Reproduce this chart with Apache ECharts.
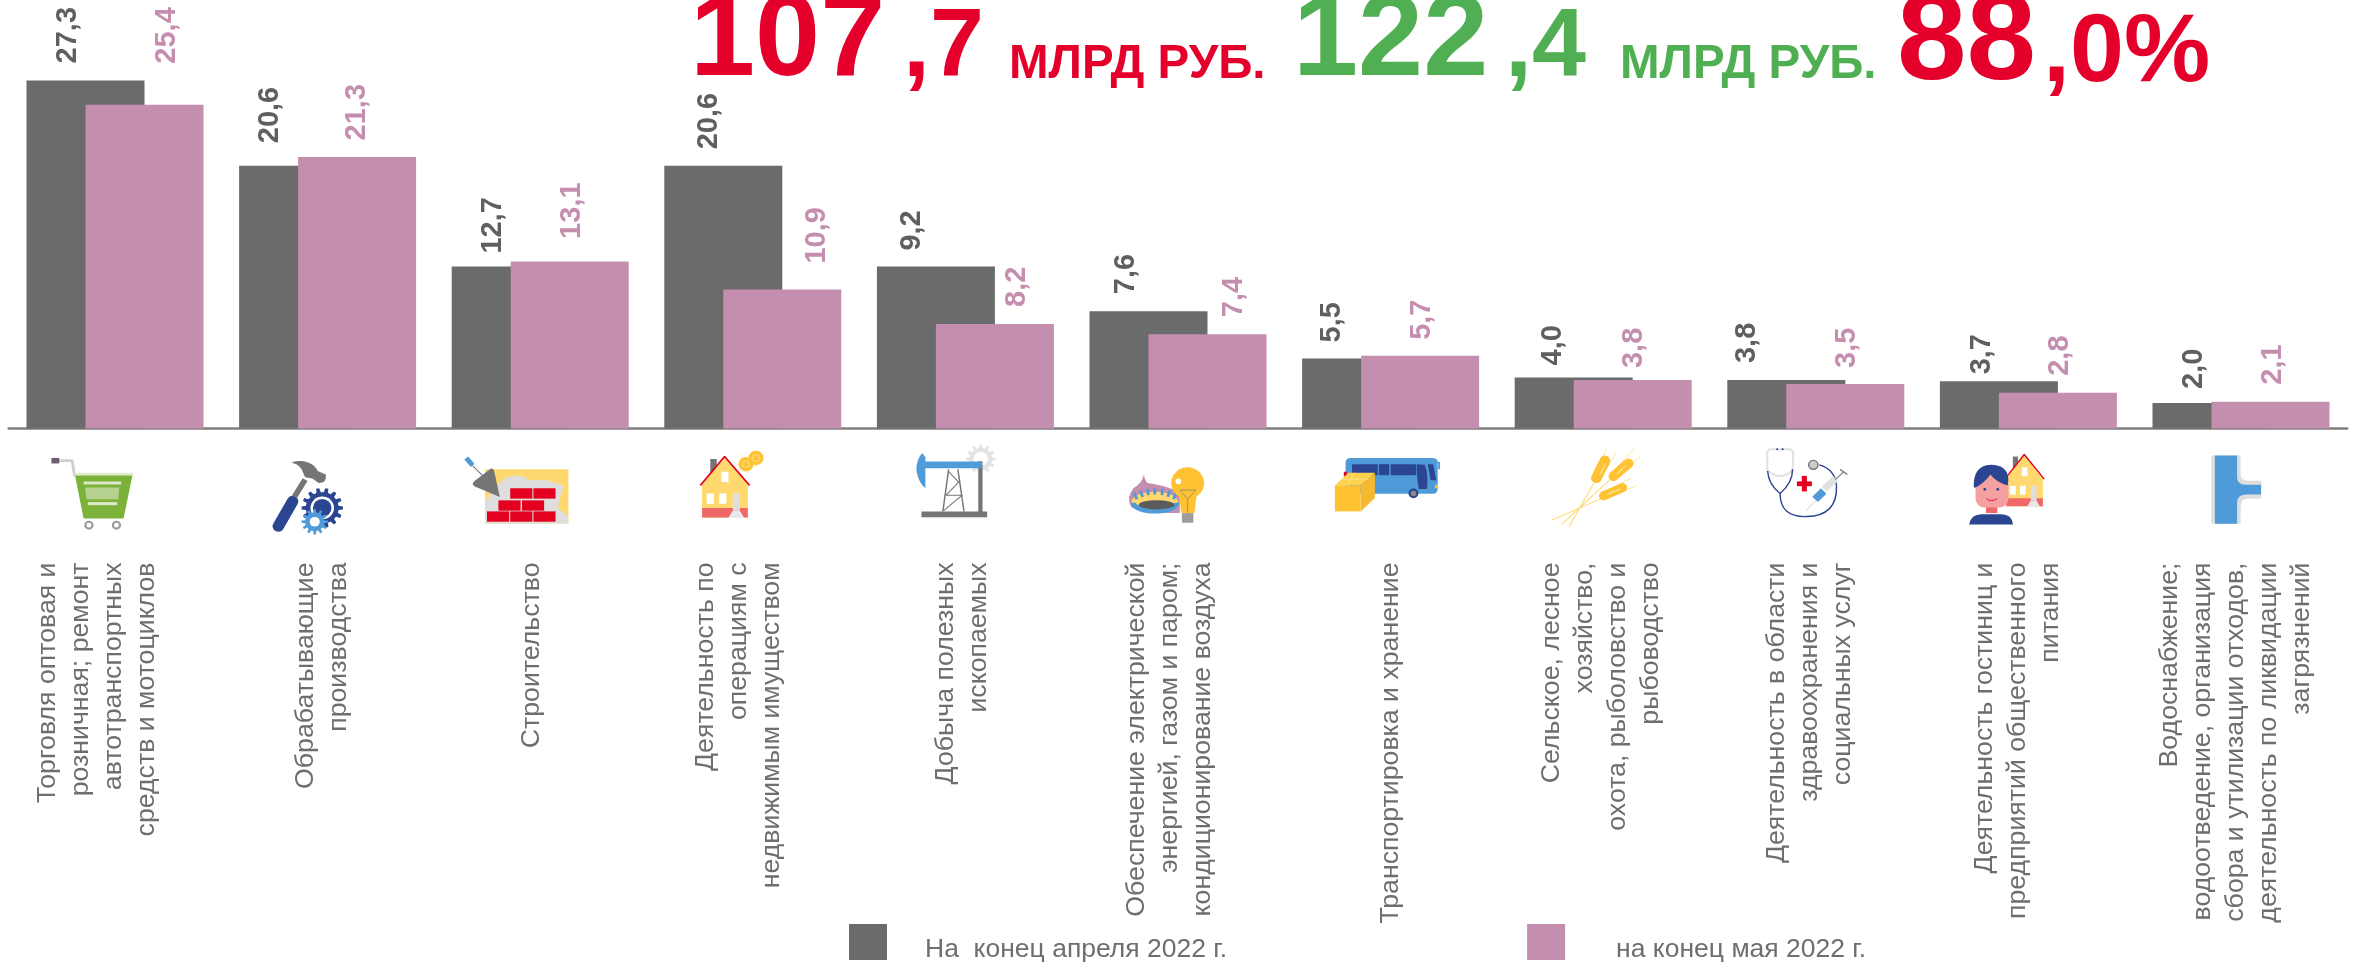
<!DOCTYPE html>
<html><head><meta charset="utf-8">
<style>html,body{margin:0;padding:0;background:#fff}#c{width:2356px;height:962px}</style>
<script src="https://cdn.jsdelivr.net/npm/echarts@6/dist/echarts.min.js"></script>
</head><body><div id="c"></div>
<script>
const categories = [
 'Торговля оптовая и\nрозничная; ремонт\nавтотранспортных\nсредств и мотоциклов',
 'Обрабатывающие\nпроизводства',
 'Строительство',
 'Деятельность по\nоперациям с\nнедвижимым имуществом',
 'Добыча полезных\nископаемых',
 'Обеспечение электрической\nэнергией, газом и паром;\nкондиционирование воздуха',
 'Транспортировка и хранение',
 'Сельское, лесное\nхозяйство,\nохота, рыболовство и\nрыбоводство',
 'Деятельность в области\nздравоохранения и\nсоциальных услуг',
 'Деятельность гостиниц и\nпредприятий общественного\nпитания',
 'Водоснабжение;\nводоотведение, организация\nсбора и утилизации отходов,\nдеятельность по ликвидации\nзагрязнений'
];
const seriesAprilName = 'На  конец апреля 2022 г.';
const seriesMayName = 'на конец мая 2022 г.';
// bar heights as drawn in the picture (two grey bars do not match their printed labels)
const aprilBars = [27.3, 20.6, 12.7, 20.6, 12.7, 9.2, 5.5, 4.0, 3.8, 3.7, 2.0];
const aprilLabels = ['27,3','20,6','12,7','20,6','9,2','7,6','5,5','4,0','3,8','3,7','2,0'];
const mayBars = [25.4, 21.3, 13.1, 10.9, 8.2, 7.4, 5.7, 3.8, 3.5, 2.8, 2.1];
const mayLabels = ['25,4','21,3','13,1','10,9','8,2','7,4','5,7','3,8','3,5','2,8','2,1'];

// layout only
const aprilLabelDx = [-18,-28,-18,-14,-24,-23,-29,-21,-39,-17,-18];
const aprilLabelGap = [17,22.6,13,16.5,16,17,16,12,17,7,14];
const mayLabelDx = [22,0,2,35,22,26,2,1,2,2,2];
const mayLabelGap = [41,16.5,22.6,26,17,17,16,12,16,17,17];
const catLabelShift = [-18,-5,-9,-14,-3,-8,0,-2,-6,-11,-5];
const CAT_LINE = 33;

const FONT = '"Liberation Sans", Arial, sans-serif';
const GREY = '#6B6B6B', PINK = '#C48EAE', RED = '#E4002B', GREEN = '#50AF52';
const BLUE = '#2B4590', SKY = '#4F9BD9', GOLD = '#FFC233', SAND = '#FFD96F', STEEL = '#757575', LIGHT = '#DEDEDE';

// icon primitives, in a local drawing space
const R = (x,y,w,h,fill,r) => ({type:'rect',shape:{x,y,width:w,height:h,r:r||0},style:{fill}});
const C = (cx,cy,r,fill,stroke,lw) => ({type:'circle',shape:{cx,cy,r},style:{fill:fill||'none',stroke:stroke||null,lineWidth:lw||0}});
const P = (points,fill) => ({type:'polygon',shape:{points},style:{fill}});
const L = (points,stroke,lw,cap) => ({type:'polyline',shape:{points},style:{fill:'none',stroke,lineWidth:lw,lineCap:cap||'butt',lineJoin:'round'}});
const D = (d,fill,stroke,lw) => ({type:'path',shape:{pathData:d},style:{fill:fill||'none',stroke:stroke||null,lineWidth:lw||0}});
function gear(cx,cy,ro,ri,n,fill){
  const pts=[];const st=Math.PI*2/n;
  for(let i=0;i<n;i++){const a=i*st;
    [[-.3,ri],[-.17,ro],[.17,ro],[.3,ri]].forEach(q=>{const t=a+q[0]*st;pts.push([cx+q[1]*Math.cos(t),cy+q[1]*Math.sin(t)]);});}
  return P(pts,fill);
}
function house(){
  return [
    R(85,55,18,45,STEEL),
    P([[62,130],[125,50],[190,130],[190,225],[62,225]],SAND),
    R(62,197,128,28,'#F06767'),
    R(148,155,20,50,LIGHT),
    P([[135,226],[148,205],[168,205],[180,226]],'#E8E8E8'),
    R(116,92,20,30,'#fff'),R(75,155,20,30,'#fff'),R(110,155,20,30,'#fff'),
    L([[57,132],[125,48],[195,132]],'#E4001F',5)
  ];
}
const icons = [
  {cx:238, kids:[
    L([[75,60],[118,60],[125,105]],'#CFCFCF',8),
    R(60,52,22,16,'#6F5C70'),
    P([[125,97],[288,97],[262,228],[150,228]],'#7DB23A'),
    R(125,95,163,8,'#E0ECD0'),
    R(150,120,105,9,'#DCE8C8'),
    P([[154,138],[250,138],[247,172],[158,172]],'#B5D08F'),
    R(162,180,82,9,'#DCE8C8'),
    C(165,247,10,'#fff','#9A9A9A',6),C(242,247,10,'#fff','#9A9A9A',6)
  ]},
  {cx:833, kids:[
    L([[695,250],[735,178]],BLUE,32,'round'),
    L([[740,165],[770,115]],STEEL,16),
    D('M732 65C770 52 800 72 805 90L828 100Q832 125 808 125L790 112L770 108L760 84C752 72 742 68 732 65Z',STEEL),
    gear(818,197,58,46,14,BLUE),
    C(818,197,33,'#fff'),C(818,197,26,BLUE),
    gear(797,237,37,27,12,'#4F9BD9'),C(797,237,14,'#fff'),
  ]},
  {cx:1429, kids:[
    R(1275,85,233,157,SAND),
    D('M1275 178Q1300 140 1330 110Q1370 92 1400 118Q1450 108 1495 135Q1478 180 1480 200Q1508 212 1508 242L1275 242Z',LIGHT),
    R(1345,140,62,30,'#E4001F'),R(1410,140,62,30,'#E4001F'),
    R(1312,175,62,30,'#E4001F'),R(1378,175,62,30,'#E4001F'),
    R(1280,207,62,30,'#E4001F'),R(1345,207,62,30,'#E4001F'),R(1410,207,62,30,'#E4001F'),
    L([[1240,75],[1268,103]],STEEL,3),
    L([[1222,52],[1240,74]],SKY,14),
    D('M1292 82Q1298 82 1300 90L1316 165L1246 135Q1234 128 1246 118Z',STEEL)
  ]},
  {cx:204, kids:[
    ...house(),
    C(213,52,21,GOLD,'#FFE08A',1),C(185,70,21,GOLD,'#FFE08A',1),
    C(213,52,9,null,'#FFE08A',3),C(185,70,9,null,'#FFE08A',3)
  ]},
  {cx:799, kids:[
    gear(842,55,42,32,12,'#E4E4E4'),C(842,55,20,'#fff'),
    R(835,62,12,150,STEEL),
    R(685,62,160,20,SKY),
    D('M678 38Q660 60 662 90Q668 125 687 140L687 50Z',SKY),
    L([[752,85],[736,207]],STEEL,4),L([[778,85],[795,207]],STEEL,4),
    L([[752,92],[780,122],[745,160],[790,160],[738,205]],STEEL,3),
    R(676,207,184,17,STEEL)
  ]},
  {cx:1395, kids:[
    D('M1300 98Q1296 125 1270 140Q1248 170 1265 195Q1285 212 1400 212L1400 150Q1350 130 1310 125Q1300 115 1300 98Z',PINK),
    D('M1265 180A65 30 0 0 1 1395 180A65 30 0 0 1 1265 180Z',SAND),
    D('M1270 182A60 24 0 0 0 1392 182',null,SKY,14),
    D('M1280 172L1272 152M1296 165L1290 148M1312 160L1310 142M1330 158L1330 140M1350 160L1352 142M1366 165L1372 148M1382 172L1390 154',null,SKY,8),
    D('M1285 188A45 12 0 0 1 1385 188A45 12 0 0 1 1285 188Z','#5B5B5B'),
    C(1422,125,46,GOLD),
    P([[1398,160],[1447,160],[1441,212],[1404,212]],GOLD),
    R(1406,212,32,28,'#9C9C9C'),
    L([[1400,145],[1445,145],[1422,172],[1400,145]],'#7E7E7E',2),
    L([[1422,172],[1422,211]],'#7E7E7E',2),
    C(1396,120,8,'#fff')
  ]},
  {cx:226, kids:[
    R(100,52,258,104,SKY,14),
    L([[335,60],[362,66],[362,85]],SKY,5),
    R(118,70,72,32,BLUE,3),R(193,70,29,32,BLUE),R(226,70,72,32,BLUE,3),
    D('M300 70L322 72Q332 100 328 142L305 142Q298 110 300 70Z',BLUE),
    P([[330,70],[345,70],[354,117],[338,117]],BLUE),
    R(95,92,8,14,'#E4001F'),R(350,130,8,10,GOLD),
    C(290,155,11,'#8A8A8A',BLUE,6),
    P([[70,132],[108,95],[182,95],[142,132]],'#FFD24D'),
    P([[142,132],[182,95],[182,168],[142,207]],'#F6B92D'),
    R(70,132,72,75,GOLD),
    L([[92,114],[162,114]],'#FFE08A',3),L([[125,95],[105,132]],'#FFE08A',3)
  ]},
  {cx:821, kids:[
    L([[725,252],[795,125]],SAND,3),L([[705,245],[840,115]],SAND,3),L([[678,232],[815,170]],SAND,3),
    L([[830,25],[800,100]],SAND,2),L([[857,35],[825,95]],SAND,2),
    L([[908,25],[855,85]],SAND,2),L([[927,45],[870,98]],SAND,2),
    L([[900,110],[835,145]],SAND,2),L([[915,132],[850,160]],SAND,2),
    L([[802,110],[826,60]],GOLD,30,'round'),
    L([[850,105],[892,68]],GOLD,28,'round'),
    L([[822,162],[875,138]],GOLD,26,'round'),
    L([[812,100],[828,68]],'#FFE7A6',3),L([[860,98],[882,76]],'#FFE7A6',3),L([[832,158],[868,142]],'#FFE7A6',3)
  ]},
  {cx:240, kids:[
    L([[104,90],[104,35],[110,27],[170,27],[177,35],[175,90]],'#E2E2E2',6),
    D('M105 88Q140 122 175 88',null,'#E2E2E2',6),
    C(132,27,3,BLUE),C(147,27,3,BLUE),
    D('M105 90Q108 130 140 155Q175 125 175 85',null,BLUE,4),
    D('M140 155Q140 225 215 222Q300 220 298 135Q295 85 250 72',null,BLUE,4),
    C(233,72,13,'#CCCCCC',STEEL,4),
    R(201,104,14,45,'#E4001F'),R(187,120,42,14,'#E4001F'),
    L([[213,205],[240,175]],'#DDDDDD',3),
    L([[263,142],[295,112]],'#E2E2E2',20),
    L([[238,172],[262,148]],SKY,22),
    L([[295,115],[318,92]],STEEL,3),L([[308,85],[328,100]],STEEL,4)
  ]},
  {cx:836, kids:[
    {type:'group',x:770-57*0.8,y:42-48*0.85,scaleX:0.8,scaleY:0.85,children:house()},
    R(717,190,32,22,'#EE6A6A'),
    D('M670 245Q675 215 705 215L760 215Q790 215 793 245Z',BLUE),
    R(688,100,92,96,'#F4A0A0',26),
    D('M683 138Q680 75 730 72Q778 72 780 115L778 132Q745 122 730 100Q712 125 688 138Z',BLUE),
    C(714,143,4,BLUE),C(750,143,4,BLUE),
    D('M718 170Q732 182 748 170',null,'#E4002B',2.5)
  ]},
  {cx:1431, kids:[
    D('M1348 45L1430 45L1430 100Q1432 118 1450 118L1488 118L1488 170L1450 170Q1432 170 1430 190L1430 243L1348 243Z',LIGHT),
    D('M1358 45L1420 45L1420 110Q1422 130 1445 130L1487 130L1487 158L1445 158Q1422 158 1420 180L1420 243L1358 243Z',SKY)
  ]}
];

// label.offset acts in the rotated frame of the text
const withLabel = (vals, texts, dx, gap) => vals.map((v,i)=>({
  value:v,
  label:{formatter:texts[i],offset:[gap[i],dx[i]]}
}));
const catData = categories.map((c,i)=>{
  const H = c.split('\n').length*CAT_LINE;
  return {value:c,textStyle:{verticalAlign:'top',align:'right',padding:[catLabelShift[i]-H/2,0,0,0]}};
});
const valueLabel = color => ({show:true,position:'top',distance:0,rotate:90,align:'left',verticalAlign:'middle',
  fontFamily:FONT,fontWeight:'bold',fontSize:29,color});
const headline = (text,x,base,size,fill) => ({
  type:'text',x,y:base-size*0.82,silent:true,
  style:{text,fontFamily:FONT,fontWeight:'bold',fontSize:size,fill,textAlign:'left',textVerticalAlign:'top'}
});

const chart = echarts.init(document.getElementById('c'),null,{renderer:'canvas'});
chart.setOption({
  animation:false,
  backgroundColor:'#fff',
  grid:{left:8.7,width:2338.6,top:46,height:382.5,containLabel:false},
  legend:{
    data:[seriesAprilName,seriesMayName],left:849,top:924,orient:'horizontal',padding:0,
    itemWidth:38,itemHeight:36,itemGap:300,icon:'rect',selectedMode:false,
    formatter:n=>n===seriesAprilName?`{a|${n}}`:`{b|${n}}`,
    textStyle:{fontFamily:FONT,fontSize:26.5,color:'#6E6E6E',
      rich:{a:{fontFamily:FONT,fontSize:26.5,color:'#6E6E6E',padding:[16,0,0,33]},
            b:{fontFamily:FONT,fontSize:26.5,color:'#6E6E6E',padding:[16,0,0,46]}}}
  },
  xAxis:{
    type:'category',data:catData,
    axisLine:{show:true,lineStyle:{color:'#808080',width:2.5}},
    axisTick:{show:false},
    axisLabel:{interval:0,rotate:90,align:'right',verticalAlign:'top',margin:134,
      fontFamily:FONT,fontSize:26.7,lineHeight:CAT_LINE,color:'#6E6E6E',hideOverlap:false}
  },
  yAxis:{type:'value',min:0,max:30,show:false,splitLine:{show:false}},
  series:[
    {name:seriesAprilName,type:'bar',barWidth:118,barGap:'-50%',itemStyle:{color:GREY},
     label:valueLabel('#5F5F5F'),data:withLabel(aprilBars,aprilLabels,aprilLabelDx,aprilLabelGap),z:2},
    {name:seriesMayName,type:'bar',barWidth:118,itemStyle:{color:PINK},
     label:valueLabel(PINK),data:withLabel(mayBars,mayLabels,mayLabelDx,mayLabelGap),z:3},
    {type:'custom',silent:true,clip:false,z:4,tooltip:{show:false},
     data:categories.map((c,i)=>[i,0]),encode:{x:0,y:1},
     renderItem:(params,api)=>{
       const ic = icons[params.dataIndex];
       const p = api.coord([params.dataIndex,0]);
       return {type:'group',x:p[0]-ic.cx/2.8,y:p[1]+11.5,scaleX:1/2.8,scaleY:1/2.9,children:ic.kids};
     }}
  ],
  graphic:{elements:[
    headline('107',690,80,117,RED),
    headline(',7',903,80,97,RED),
    headline('МЛРД РУБ.',1009,80,47.5,RED),
    headline('122',1293,80,117,GREEN),
    headline(',4',1505,80,97,GREEN),
    headline('МЛРД РУБ.',1620,80,47.5,GREEN),
    headline('88',1897,85,125,RED),
    headline(',0%',2043,85,97,RED)
  ]}
});
</script></body></html>
